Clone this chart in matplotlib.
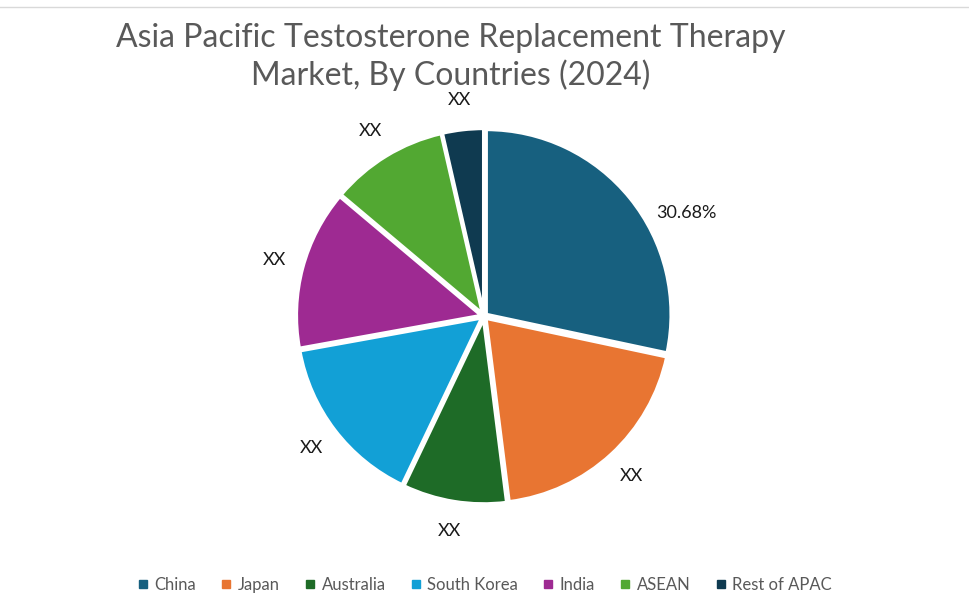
import numpy as np
import matplotlib
matplotlib.use("Agg")
import matplotlib.pyplot as plt
from matplotlib.lines import Line2D

plt.rcParams['font.family'] = ['Lato', 'DejaVu Sans']

countries = ['China', 'Japan', 'Australia', 'South Korea', 'India', 'ASEAN', 'Rest of APAC']
shares = [28.4, 19.7, 9.1, 15.1, 14.0, 10.3, 3.6]
labels = ['30.68%', 'XX', 'XX', 'XX', 'XX', 'XX', 'XX']
colors = ['#17607F', '#E87532', '#1E6B27', '#12A0D6', '#9E2A92', '#52A832', '#0F3A50']

fig = plt.figure(figsize=(9.7, 6), dpi=100)
fig.patch.set_facecolor('white')

k = 1.3
w = 370 * k / 970
h = 370 * k / 600
ax = fig.add_axes([0.499 - w / 2, 0.473 - h / 2, w, h])

wedges, texts = ax.pie(shares, labels=labels, colors=colors, startangle=90,
                       counterclock=False, explode=[0.015] * len(shares),
                       labeldistance=1.16,
                       wedgeprops=dict(edgecolor='white', linewidth=2.5),
                       textprops=dict(fontsize=13, color='#1a1a1a'))
for t in texts:
    t.set_ha('center')
    t.set_va('center')

# excel nudged the china label toward the right side
ang = np.deg2rad(27)
texts[0].set_position((1.23 * np.cos(ang), 1.23 * np.sin(ang)))

ax.set_xlim(-k, k)
ax.set_ylim(-k, k)
ax.set_aspect('equal')
ax.axis('off')

fig.text(0.465, 0.905, 'Asia Pacific Testosterone Replacement Therapy\nMarket, By Countries (2024)',
         ha='center', va='center', fontsize=23, color='#595959', linespacing=1.25)

fig.add_artist(Line2D([0, 1], [0.988, 0.988], color='#d9d9d9', linewidth=1))

handles = [plt.Line2D([], [], marker='s', linestyle='', markersize=6, color=c) for c in colors]
fig.legend(handles, countries, loc='center', bbox_to_anchor=(0.499, 0.025), ncol=7,
           frameon=False, handletextpad=0.3, columnspacing=1.4, handlelength=0.8,
           prop=dict(size=12), labelcolor='#595959')

fig.savefig('out.png', dpi=100)
